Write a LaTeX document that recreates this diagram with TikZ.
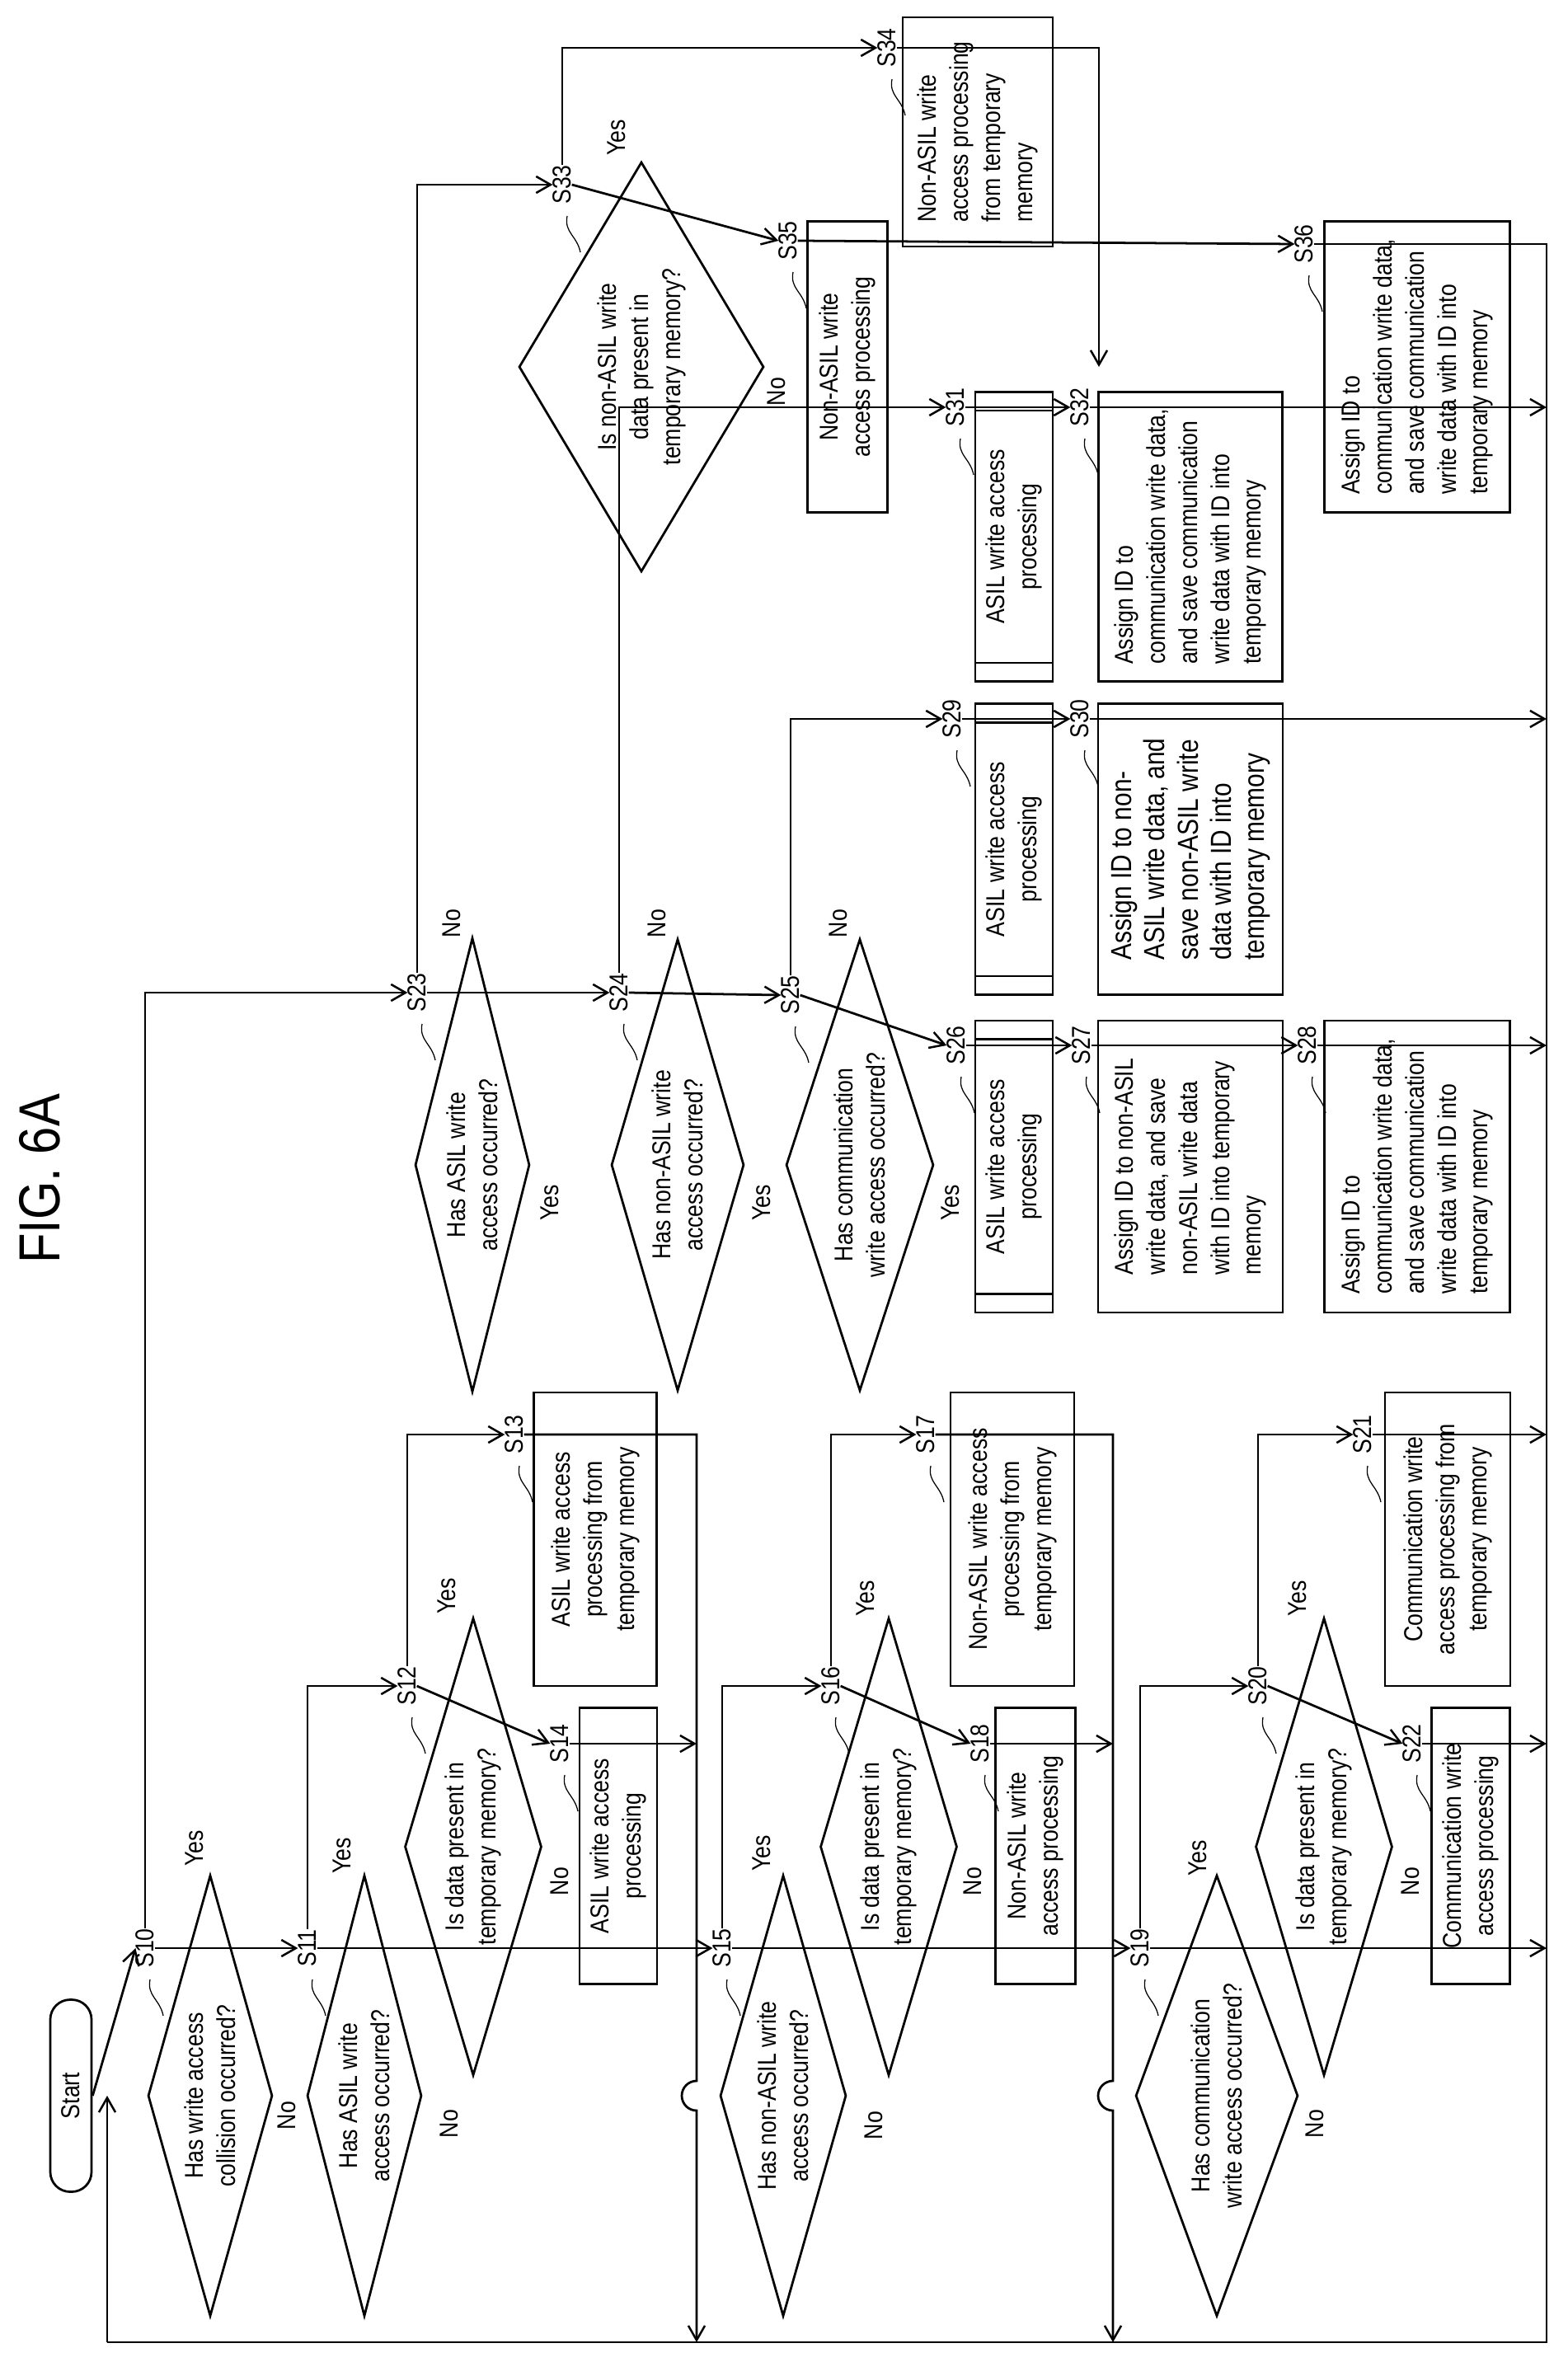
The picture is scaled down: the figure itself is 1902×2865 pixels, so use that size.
\documentclass[tikz,border=0pt]{standalone}
\usepackage{fontspec}
\setmainfont{Liberation Sans}[FakeStretch=0.85]
\usetikzlibrary{shapes.geometric,arrows.meta,calc}
\newlength\pxu
\setlength\pxu{0.14mm}
\begin{document}
\begin{tikzpicture}[x=0.14mm,y=-0.14mm,
  every node/.style={font=\fontsize{12.5}{15.5}\selectfont, inner sep=0pt},
  ln/.style={line width=1.1pt},
  arr/.style={ln,-{Straight Barb[length=7pt,width=8pt,line width=1pt]}},
  dia/.style={draw,ln,diamond,shape aspect=1,rotate=90},
  txt/.style={rotate=90,align=center},
  box/.style={draw,ln,rectangle,rotate=90,align=center},
  lbox/.style={box,align=left},
  yn/.style={rotate=90},
  lab/.style={rotate=90}
]
\useasboundingbox (0,0) rectangle (1902,2865);
\newcommand\steplab[3]{\node[lab] (#1) at (#2,#3) {\MakeUppercase{#1}};
  \draw[line width=0.5pt] ($(#2,#3)+(6,38)$) .. controls ($(#2,#3)+(2,58)$) and ($(#2,#3)+(18,62)$) .. ($(#2,#3)+(22,82)$);}
% title
\node[rotate=90,font=\fontsize{28}{30}\selectfont] (title) at (48,1430) {FIG. 6A};
% start
\node[draw,ln,rectangle,rounded corners=24\pxu,rotate=90,minimum width=233\pxu,minimum height=50\pxu] (start) at (86,2542) {Start};
% diamonds
\node[dia,minimum width=535\pxu,minimum height=151\pxu] (s10) at (255,2542) {};
\node[txt] at (s10) {Has write access\\collision occurred?};
\node[dia,minimum width=535\pxu,minimum height=139\pxu] (s11) at (442,2542) {};
\node[txt] at (s11) {Has ASIL write\\access occurred?};
\node[dia,minimum width=555\pxu,minimum height=166\pxu] (s12) at (574,2240) {};
\node[txt] at (s12) {Is data present in\\temporary memory?};
\node[dia,minimum width=535\pxu,minimum height=153\pxu] (s15) at (950,2542) {};
\node[txt] at (s15) {Has non-ASIL write\\access occurred?};
\node[dia,minimum width=555\pxu,minimum height=166\pxu] (s16) at (1078,2240) {};
\node[txt] at (s16) {Is data present in\\temporary memory?};
\node[dia,minimum width=535\pxu,minimum height=197\pxu] (s19) at (1476,2542) {};
\node[txt] at (s19) {Has communication\\write access occurred?};
\node[dia,minimum width=555\pxu,minimum height=166\pxu] (s20) at (1606,2240) {};
\node[txt] at (s20) {Is data present in\\temporary memory?};
\node[dia,minimum width=551\pxu,minimum height=139\pxu] (s23) at (573,1413) {};
\node[txt] at (s23) {Has ASIL write\\access occurred?};
\node[dia,minimum width=548\pxu,minimum height=161\pxu] (s24) at (822,1413) {};
\node[txt] at (s24) {Has non-ASIL write\\access occurred?};
\node[dia,minimum width=548\pxu,minimum height=179\pxu] (s25) at (1043,1413) {};
\node[txt] at (s25) {Has communication\\write access occurred?};
\node[dia,minimum width=497\pxu,minimum height=297\pxu] (s33) at (778,445) {};
\node[txt] at (s33) {Is non-ASIL write\\data present in\\temporary memory?};
% boxes
\node[box,minimum width=356\pxu,minimum height=149\pxu] (s13) at (722,1867) {ASIL write access\\processing from\\temporary memory};
\node[box,minimum width=335\pxu,minimum height=94\pxu] (s14) at (750,2239) {ASIL write access\\processing};
\node[box,minimum width=356\pxu,minimum height=150\pxu] (s17) at (1228,1867) {Non-ASIL write access\\processing from\\temporary memory};
\node[box,minimum width=335\pxu,minimum height=97\pxu] (s18) at (1256,2239) {Non-ASIL write\\access processing};
\node[box,minimum width=356\pxu,minimum height=152\pxu] (s21) at (1756,1867) {Communication write\\access processing from\\temporary memory};
\node[box,minimum width=335\pxu,minimum height=95\pxu] (s22) at (1784,2239) {Communication write\\access processing};
\node[box,minimum width=354\pxu,minimum height=94\pxu] (s26) at (1230,1415) {ASIL write access\\processing};
\node[lbox,minimum width=354\pxu,minimum height=224\pxu] (s27) at (1444,1415) {Assign ID to non-ASIL\\write data, and save\\non-ASIL write data\\with ID into temporary\\memory};
\node[lbox,minimum width=354\pxu,minimum height=225\pxu] (s28) at (1719,1415) {Assign ID to\\communication write data,\\and save communication\\write data with ID into\\temporary memory};
\node[box,minimum width=353\pxu,minimum height=94\pxu] (s29) at (1230,1030) {ASIL write access\\processing};
\node[lbox,minimum width=353\pxu,minimum height=224\pxu,font=\fontsize{14}{16}\selectfont] (s30) at (1444,1030) {Assign ID to non-\\ASIL write data, and\\save non-ASIL write\\data with ID into\\temporary memory};
\node[box,minimum width=351\pxu,minimum height=94\pxu] (s31) at (1230,651) {ASIL write access\\processing};
\node[lbox,minimum width=351\pxu,minimum height=223\pxu] (s32) at (1444,651) {Assign ID to\\communication write data,\\and save communication\\write data with ID into\\temporary memory};
\node[lbox,minimum width=278\pxu,minimum height=182\pxu] (s34) at (1186,160) {Non-ASIL write\\access processing\\from temporary\\memory};
\node[box,minimum width=353\pxu,minimum height=97\pxu] (s35) at (1028,445) {Non-ASIL write\\access processing};
\node[lbox,minimum width=353\pxu,minimum height=225\pxu] (s36) at (1719,445) {Assign ID to\\communication write data,\\and save communication\\write data with ID into\\temporary memory};
% predefined process lines
\foreach \b in {s26,s29,s31}{
  \draw[ln] ($(\b.north east)+(0,24)$) -- ($(\b.south east)+(0,24)$);
  \draw[ln] ($(\b.north west)+(0,-24)$) -- ($(\b.south west)+(0,-24)$);
}
% step labels
\steplab{s10}{176}{2363}
\steplab{s11}{373}{2363}
\steplab{s12}{494}{2045}
\steplab{s13}{624}{1740}
\steplab{s14}{679}{2115}
\steplab{s15}{876}{2363}
\steplab{s16}{1008}{2045}
\steplab{s17}{1123}{1740}
\steplab{s18}{1189}{2115}
\steplab{s19}{1383}{2363}
\steplab{s20}{1526}{2045}
\steplab{s21}{1653}{1740}
\steplab{s22}{1713}{2115}
\steplab{s23}{506}{1204}
\steplab{s24}{751}{1204}
\steplab{s25}{959}{1207}
\steplab{s26}{1160}{1268}
\steplab{s27}{1312}{1268}
\steplab{s28}{1586}{1268}
\steplab{s29}{1155}{872}
\steplab{s30}{1310}{872}
\steplab{s31}{1159}{494}
\steplab{s32}{1310}{494}
\steplab{s33}{682}{224}
\steplab{s34}{1076}{58}
\steplab{s35}{956}{292}
\steplab{s36}{1582}{296}
% yes/no
\foreach \t/\x/\y in {Yes/236/2242, No/348/2566, Yes/415/2251, No/545/2576, Yes/542/1936, No/679/2282,
  Yes/924/2248, No/1060/2578, Yes/1050/1939, No/1180/2282, Yes/1453/2254, No/1595/2576,
  Yes/1574/1939, No/1711/2282, No/548/1120, Yes/667/1459, No/797/1120, Yes/924/1459,
  No/1017/1120, Yes/1153/1459, Yes/748/167, No/942/475}
  \node[yn] at (\x,\y) {\t};
% coordinates
\coordinate (rt) at (1876,445);
\coordinate (br) at (1876,2841);
\coordinate (bl) at (130,2841);
\coordinate (lj) at (130,2542);
\coordinate (c1) at (845,2841);
\coordinate (c2) at (1350,2841);
\coordinate (c3) at (1333,445);
% connectors
\draw[arr] (start.south) -- (s10.north);
\draw[ln] (s36.south) -| (br) -- (bl);
\draw[arr] (bl) -- (lj);
\draw[arr] (s10.south) -- (s11.north);
\draw[arr] (s10.east) |- (s23.north);
\draw[arr] (s11.east) |- (s12.north);
\draw[arr] (s12.east) |- (s13.north);
\draw[arr] (s12.south) -- (s14.north);
\draw[arr] (s13.south) -| ($(c1|-lj)+(0,-18)$) arc[start angle=90,end angle=270,radius=18\pxu] -- (c1);
\draw[arr] (s14.south) -- (s14.south -| c1);
\draw[arr] (s11.south) -- (s15.north);
\draw[arr] (s15.east) |- (s16.north);
\draw[arr] (s16.east) |- (s17.north);
\draw[arr] (s16.south) -- (s18.north);
\draw[arr] (s17.south) -| ($(c2|-lj)+(0,-18)$) arc[start angle=90,end angle=270,radius=18\pxu] -- (c2);
\draw[arr] (s18.south) -- (s18.south -| c2);
\draw[arr] (s15.south) -- (s19.north);
\draw[arr] (s19.east) |- (s20.north);
\draw[arr] (s20.east) |- (s21.north);
\draw[arr] (s20.south) -- (s22.north);
\draw[arr] (s21.south) -- (s21.south -| br);
\draw[arr] (s22.south) -- (s22.south -| br);
\draw[arr] (s19.south) -- (s19.south -| br);
\draw[arr] (s23.south) -- (s24.north);
\draw[arr] (s24.south) -- (s25.north);
\draw[arr] (s25.south) -- (s26.north);
\draw[arr] (s26.south) -- (s27.north);
\draw[arr] (s27.south) -- (s28.north);
\draw[arr] (s28.south) -- (s28.south -| br);
\draw[arr] (s25.east) |- (s29.north);
\draw[arr] (s29.south) -- (s30.north);
\draw[arr] (s30.south) -- (s30.south -| br);
\draw[arr] (s24.east) |- (s31.north);
\draw[arr] (s31.south) -- (s32.north);
\draw[arr] (s32.south) -- (s32.south -| br);
\draw[arr] (s23.east) |- (s33.north);
\draw[arr] (s33.east) |- (s34.north);
\draw[arr] (s34.south) -| (c3);
\draw[arr] (s33.south) -- (s35.north);
\draw[arr] (s35.south) -- (s36.north);
\end{tikzpicture}
\end{document}
